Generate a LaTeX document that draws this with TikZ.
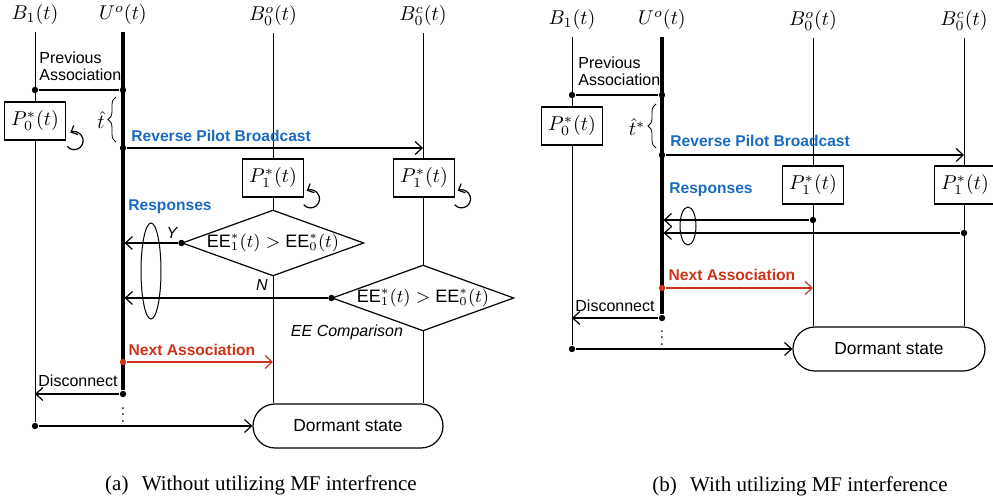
\documentclass[tikz,border=0pt]{standalone}
\usepackage{fontspec}
\setsansfont{Liberation Sans}
\newfontfamily\capfont{Liberation Serif}
\usepackage{amsmath}
\usetikzlibrary{calc,arrows.meta,shapes,backgrounds,decorations.pathreplacing,positioning}
\definecolor{RPBlue}{HTML}{1A6AC4}
\definecolor{NARed}{HTML}{CC3318}
\tikzset{
    life/.style = {line width=0.5pt},
    uline/.style = {line width=1.6pt},
    msg/.style = {-{Straight Barb[length=3.5pt,width=6.5pt]}, line width=0.6pt},
    loop/.style = {-{Straight Barb[length=2.6pt,width=5pt]}, line width=0.6pt},
    pbox/.style = {draw, rectangle, fill=white, line width=0.7pt,
        minimum height=19pt},
    cmp/.style = {draw, diamond, aspect=2.76, inner sep=0pt, fill=white,
        line width=0.6pt, font=\fontsize{9}{11}\selectfont},
    dormant/.style = {draw, rectangle, rounded corners=11pt, fill=white,
        minimum width=95pt, minimum height=22pt, line width=0.6pt,
        font=\sffamily\fontsize{8.7}{10}\selectfont},
    dot/.style = {circle, fill, inner sep=0pt, minimum size=3.2pt},
    txt/.style = {font=\sffamily\fontsize{8}{8.6}\selectfont, align=left, inner sep=1pt},
    bluetxt/.style = {inner sep=1pt, text=RPBlue, font=\sffamily\bfseries\fontsize{7.8}{9}\selectfont},
    redtxt/.style = {inner sep=1pt, text=NARed, font=\sffamily\bfseries\fontsize{7.8}{9}\selectfont},
    yn/.style = {inner sep=1pt, font=\sffamily\itshape\fontsize{8}{9}\selectfont},
    caption/.style = {font=\capfont\fontsize{10.5}{12}\selectfont}
}

\begin{document}
\begin{tikzpicture}[x=0.5pt,y=-0.5pt]
\useasboundingbox (0,0) rectangle (993,502);

%%%% (a) without MF interference
\node (B1a) at (35,15) {$B_1(t)$};
\node (Ua) at (123,15) {$U^o(t)$};
\node (Boa) at (273,16) {$B_0^o(t)$};
\node (Bca) at (423,16) {$B_0^c(t)$};
\node [dormant] (Da) at (348,426) {Dormant state};
\node [dot] (pa1) at (35,90) {};
\node [dot] (pa2) at (123,90) {};
\node [dot] (rpa) at (123,148) {};
\node [dot,NARed] (naa) at (123,362) {};
\node [dot] (dca) at (123,394) {};
\node [dot] (dma) at (35,426) {};
\begin{scope}[on background layer]
    \draw [life] (B1a.south) -- (dma);
    \draw [uline] (Ua.south) -- (dca);
    \draw [life] (Boa.south) -- (Boa.south |- Da.north);
    \draw [life] (Bca.south) -- (Bca.south |- Da.north);
\end{scope}
\node [txt,anchor=west] (pta) at (37,66) {Previous\\Association};
\draw [life,line width=0.6pt] (pa1) -- (pa2);
\node [pbox] (P0a) at (35,121) {$P_0^*(t)$};
\draw [loop] ([shift={(4pt,0pt)}]P0a.south east) ++(220:4.5pt) arc[start angle=220, end angle=475, radius=4.5pt];
\node [inner sep=0pt] (tha) at (101,120) {$\hat{t}$};
\draw [decorate,decoration={brace,amplitude=4pt}] (116,142) -- (116,97);
\node [bluetxt,anchor=west] (rpta) at (129,136) {Reverse Pilot Broadcast};
\draw [msg] (rpa) -- (rpa -| Bca);
\node [pbox] (P1oa) at (273,178) {$P_1^*(t)$};
\node [pbox] (P1ca) at (424,178) {$P_1^*(t)$};
\draw [loop] ([shift={(3.2pt,-0.6pt)}]P1oa.south east) ++(220:4.5pt) arc[start angle=220, end angle=475, radius=4.5pt];
\draw [loop] ([shift={(3.2pt,-0.6pt)}]P1ca.south east) ++(220:4.5pt) arc[start angle=220, end angle=475, radius=4.5pt];
\node [bluetxt] (rsa) at (170,207) {Responses};
\node [cmp] (c1a) at (273,243) {$\textsf{EE}_1^*(t) > \textsf{EE}_0^*(t)$};
\node [cmp] (c2a) at (423,298) {$\textsf{EE}_1^*(t) > \textsf{EE}_0^*(t)$};
\node [dot] (ya) at (c1a.west) {};
\node [dot] (na) at (c2a.west) {};
\draw [msg,shorten >=0.8pt] (ya) -- (ya -| Ua);
\draw [msg,shorten >=0.8pt] (na) -- (na -| Ua);
\node [yn] (yla) at (172,233) {Y};
\node [yn] (nla) at (262,285) {N};
\draw [life] (151,271) ellipse [x radius=5pt, y radius=24pt];
\node [yn] (eca) at (347,332) {EE Comparison};
\node [redtxt] (nata) at (192,350) {Next Association};
\draw [msg,NARed] (naa) -- (naa -| Boa);
\node [txt] (dcta) at (78,381) {Disconnect};
\draw [msg] (dca) -- (dca -| B1a);
\node [scale=0.85] (vda) at (123,410) {$\vdots$};
\draw [msg] (dma) -- (Da.west);
\node [caption] (capa) at (261,485) {(a)\hspace{4pt} Without utilizing MF interfrence};

%%%% (b) with MF interference
\node (B1b) at (572,20) {$B_1(t)$};
\node (Ub) at (662,20) {$U^o(t)$};
\node (Bob) at (813,21) {$B_0^o(t)$};
\node (Bcb) at (964,21) {$B_0^c(t)$};
\node [dormant,minimum width=96pt] (Db) at (889,349) {Dormant state};
\node [dot] (pb1) at (572,95) {};
\node [dot] (pb2) at (662,95) {};
\node [dot] (rpb) at (662,155) {};
\node [dot] (rsb1) at (813,220) {};
\node [dot] (rsb2) at (964,233) {};
\node [dot,NARed] (nab) at (662,288) {};
\node [dot] (dcb) at (662,318) {};
\node [dot] (dmb) at (572,349) {};
\begin{scope}[on background layer]
    \draw [life] (B1b.south) -- (dmb);
    \draw [uline] (Ub.south) -- (dcb);
    \draw [life] (Bob.south) -- (Bob.south |- Db.north);
    \draw [life] (Bcb.south) -- (Bcb.south |- Db.north);
\end{scope}
\node [txt,anchor=west] (ptb) at (576,71) {Previous\\Association};
\draw [life,line width=0.6pt] (pb1) -- (pb2);
\node [pbox] (P0b) at (572,126) {$P_0^*(t)$};
\node [inner sep=0pt] (thb) at (637,127) {$\hat{t}^*$};
\draw [decorate,decoration={brace,amplitude=4pt}] (656,148) -- (656,104);
\node [bluetxt,anchor=west] (rptb) at (668,141) {Reverse Pilot Broadcast};
\draw [msg] (rpb) -- (rpb -| Bcb);
\node [pbox] (P1ob) at (813,185) {$P_1^*(t)$};
\node [pbox] (P1cb) at (965,185) {$P_1^*(t)$};
\node [bluetxt] (rsb) at (711,190) {Responses};
\draw [msg,shorten >=0.8pt] (rsb1) -- (rsb1 -| Ub);
\draw [msg,shorten >=0.8pt] (rsb2) -- (rsb2 -| Ub);
\draw [life] (688,226) ellipse [x radius=4pt, y radius=9.5pt];
\node [redtxt] (natb) at (732,275) {Next Association};
\draw [msg,NARed] (nab) -- (nab -| Bob);
\node [txt] (dctb) at (615,306) {Disconnect};
\draw [msg] (dcb) -- (dcb -| B1b);
\node [scale=0.85] (vdb) at (662,333) {$\vdots$};
\draw [msg] (dmb) -- (Db.west);
\node [caption] (capb) at (800,486) {(b)\hspace{4pt} With utilizing MF interference};
\end{tikzpicture}
\end{document}
